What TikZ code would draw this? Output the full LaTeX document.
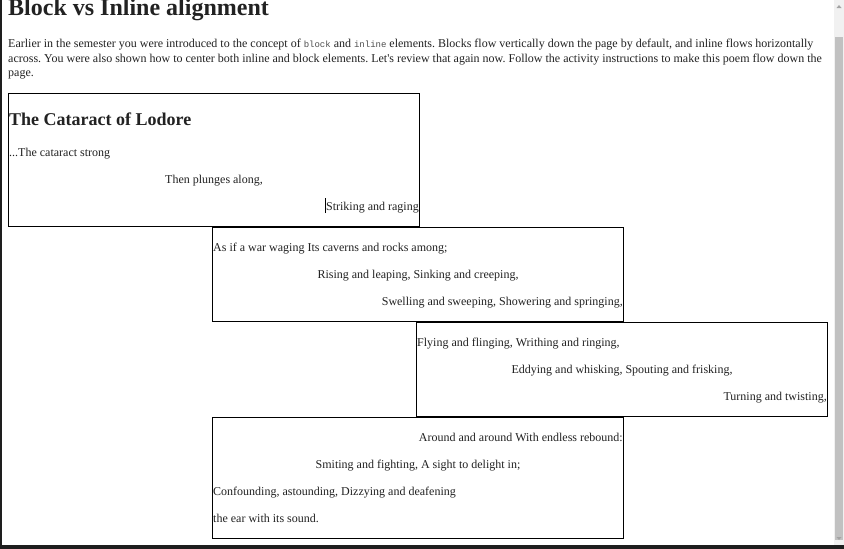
\documentclass[tikz,border=0pt]{standalone}
\usepackage{fontspec}
\setmainfont{Liberation Serif}
\setmonofont{Liberation Mono}
\usepackage{tikz}
\frenchspacing
\definecolor{inktext}{RGB}{34,34,34}
\definecolor{scrolltrack}{RGB}{241,241,241}
\definecolor{scrollthumb}{RGB}{193,193,193}
\definecolor{scrollarrow}{RGB}{163,163,163}
\definecolor{screenedge}{RGB}{30,30,30}
\newcommand{\codeword}[1]{{\ttfamily\fontsize{9}{10}\selectfont\color{inktext!80}#1}}
\tikzset{
  poembox/.style={draw=black, line width=1pt},
  verse/.style={inner sep=0pt, text=inktext, font=\fontsize{12}{14}\selectfont},
}

\begin{document}
\begin{tikzpicture}[x=1pt, y=-1pt]
            \useasboundingbox (0,0) rectangle (844,549);
            \fill[white] (0,0) rectangle (844,549);

            % Titolo
            \node[verse, anchor=base west, font=\bfseries\fontsize{24}{28}\selectfont] (title) at (8,15) {Block vs Inline alignment};

            % Testo
            \node[verse, anchor=base west] (intro1) at (8,47) {Earlier in the semester you were introduced to the concept of \codeword{block} and \codeword{inline} elements. Blocks flow vertically down the page by default, and inline flows horizontally};
            \node[verse, anchor=base west] (intro2) at (8,62) {across. You were also shown how to center both inline and block elements. Let\textquotesingle s review that again now. Follow the activity instructions to make this poem flow down the};
            \node[verse, anchor=base west] (intro3) at (8,76) {page.};

            % Blocco 1
            \draw[poembox] (8.5,93.5) rectangle (419.5,226.5);
            \node[verse, anchor=base west, font=\bfseries\fontsize{18}{22}\selectfont] (poemtitle) at (9,125) {The Cataract of Lodore};
            \node[verse, anchor=base west] (l1) at (9,156) {...The cataract strong};
            \node[verse, anchor=base] (l2) at (214,183) {Then plunges along,};
            \node[verse, anchor=base east] (l3) at (419,210) {Striking and raging};
            \draw[black, line width=0.8pt] (l3.base west) ++(-0.5,3) -- ++(0,-15);

            % Blocco 2
            \draw[poembox] (212.5,227.5) rectangle (623.5,321.5);
            \node[verse, anchor=base west] (l4) at (213,251) {As if a war waging Its caverns and rocks among;};
            \node[verse, anchor=base] (l5) at (418,278) {Rising and leaping, Sinking and creeping,};
            \node[verse, anchor=base east] (l6) at (623,305) {Swelling and sweeping, Showering and springing,};

            % Blocco 3
            \draw[poembox] (416.5,322.5) rectangle (827.5,416.5);
            \node[verse, anchor=base west] (l7) at (417,346) {Flying and flinging, Writhing and ringing,};
            \node[verse, anchor=base] (l8) at (622,373) {Eddying and whisking, Spouting and frisking,};
            \node[verse, anchor=base east] (l9) at (827,400) {Turning and twisting,};

            % Blocco 4
            \draw[poembox] (212.5,417.5) rectangle (623.5,538.5);
            \node[verse, anchor=base east] (l10) at (623,441) {Around and around With endless rebound:};
            \node[verse, anchor=base] (l11) at (418,468) {Smiting and fighting, A sight to delight in;};
            \node[verse, anchor=base west] (l12) at (213,495) {Confounding, astounding, Dizzying and deafening};
            \node[verse, anchor=base west] (l13) at (213,522) {the ear with its sound.};

            % Barra di scorrimento
            \fill[scrolltrack] (834,0) rectangle (844,545);
            \fill[scrollthumb] (835,37) rectangle (843,540);
            \fill[scrollarrow] (836.5,8) -- (841.5,8) -- (839,5) -- cycle;
            \fill[scrollarrow] (836.5,537) -- (841.5,537) -- (839,540) -- cycle;

            % Bordi
            \fill[screenedge] (0,0) rectangle (2,549);
            \fill[screenedge] (0,545) rectangle (844,549);
        \end{tikzpicture}
\end{document}
